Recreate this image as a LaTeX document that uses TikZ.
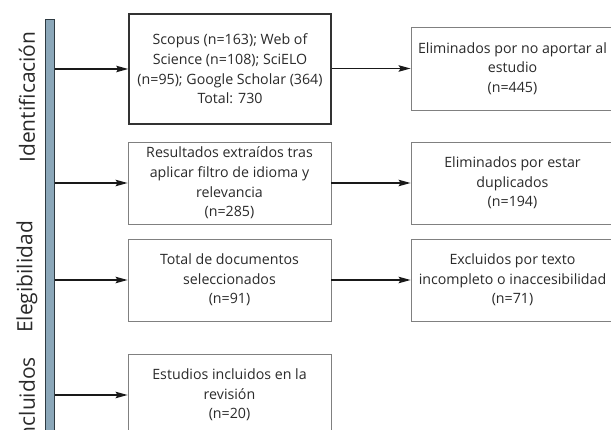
\documentclass[tikz,border=0pt]{standalone}
\usepackage{fontspec}
\setmainfont{Open Sans}
\usetikzlibrary{arrows.meta}
\definecolor{barfill}{HTML}{8BA7B9}
\definecolor{barline}{HTML}{2E3A42}
\definecolor{boxline}{HTML}{808080}
\definecolor{txt}{HTML}{2A2A2A}
\tikzset{
  box/.style={draw=boxline, line width=0.9pt, fill=white, minimum width=203pt, minimum height=82pt,
    align=center, inner sep=0pt, text=txt, font=\fontsize{14.2}{19.6}\selectfont},
  mainbox/.style={box, draw=black!80, line width=1.6pt},
  arr/.style={-{Stealth[length=12pt,width=6.5pt,inset=2pt]}, line width=1.2pt, black!90},
  phase/.style={rotate=90, text=txt, font=\fontsize{21}{24}\selectfont, inner sep=0pt}
}
\begin{document}
\begin{tikzpicture}[x=1pt,y=-1pt]
\useasboundingbox (0,0) rectangle (611,430);
\clip (0,0) rectangle (611,430);
% phase bar
\node[draw=barline, fill=barfill, line width=1.4pt, minimum width=9pt, minimum height=430pt,
  anchor=north west, inner sep=0pt] (bar) at (44.5,19) {};
\node[phase] (ph1) at (27,97) {Identificación};
\node[phase] (ph2) at (27,277) {Elegibilidad};
\node[phase, anchor=east] (ph3) at (27,357) {Incluidos};
% left column
\node[mainbox, minimum width=202pt, minimum height=110pt] (b1) at (230,69)
  {Scopus (n=163); Web of\\Science (n=108); SciELO\\(n=95); Google Scholar (364)\\Total: 730};
\node[box] (b2) at (229.5,183)
  {Resultados extraídos tras\\aplicar filtro de idioma y\\relevancia\\(n=285)};
\node[box] (b3) at (229.5,280)
  {Total de documentos\\seleccionados\\(n=91)};
\node[box] (b4) at (229.5,395)
  {Estudios incluidos en la\\revisión\\(n=20)};
% right column
\node[box, minimum height=83pt] (r1) at (512.5,68.5)
  {Eliminados por no aportar al\\estudio\\(n=445)};
\node[box] (r2) at (512.5,183)
  {Eliminados por estar\\duplicados\\(n=194)};
\node[box] (r3) at (512.5,280)
  {Excluidos por texto\\incompleto o inaccesibilidad\\(n=71)};
% arrows from bar
\draw[arr] (bar.east |- b1.west) -- (b1.west);
\draw[arr] (bar.east |- b2.west) -- (b2.west);
\draw[arr] (bar.east |- b3.west) -- (b3.west);
\draw[arr] (bar.east |- b4.west) -- (b4.west);
% arrows to exclusions
\draw[arr] (b1.east |- r1.west) -- (r1.west);
\draw[arr] (b2.east) -- (r2.west);
\draw[arr] (b3.east) -- (r3.west);
\end{tikzpicture}
\end{document}
